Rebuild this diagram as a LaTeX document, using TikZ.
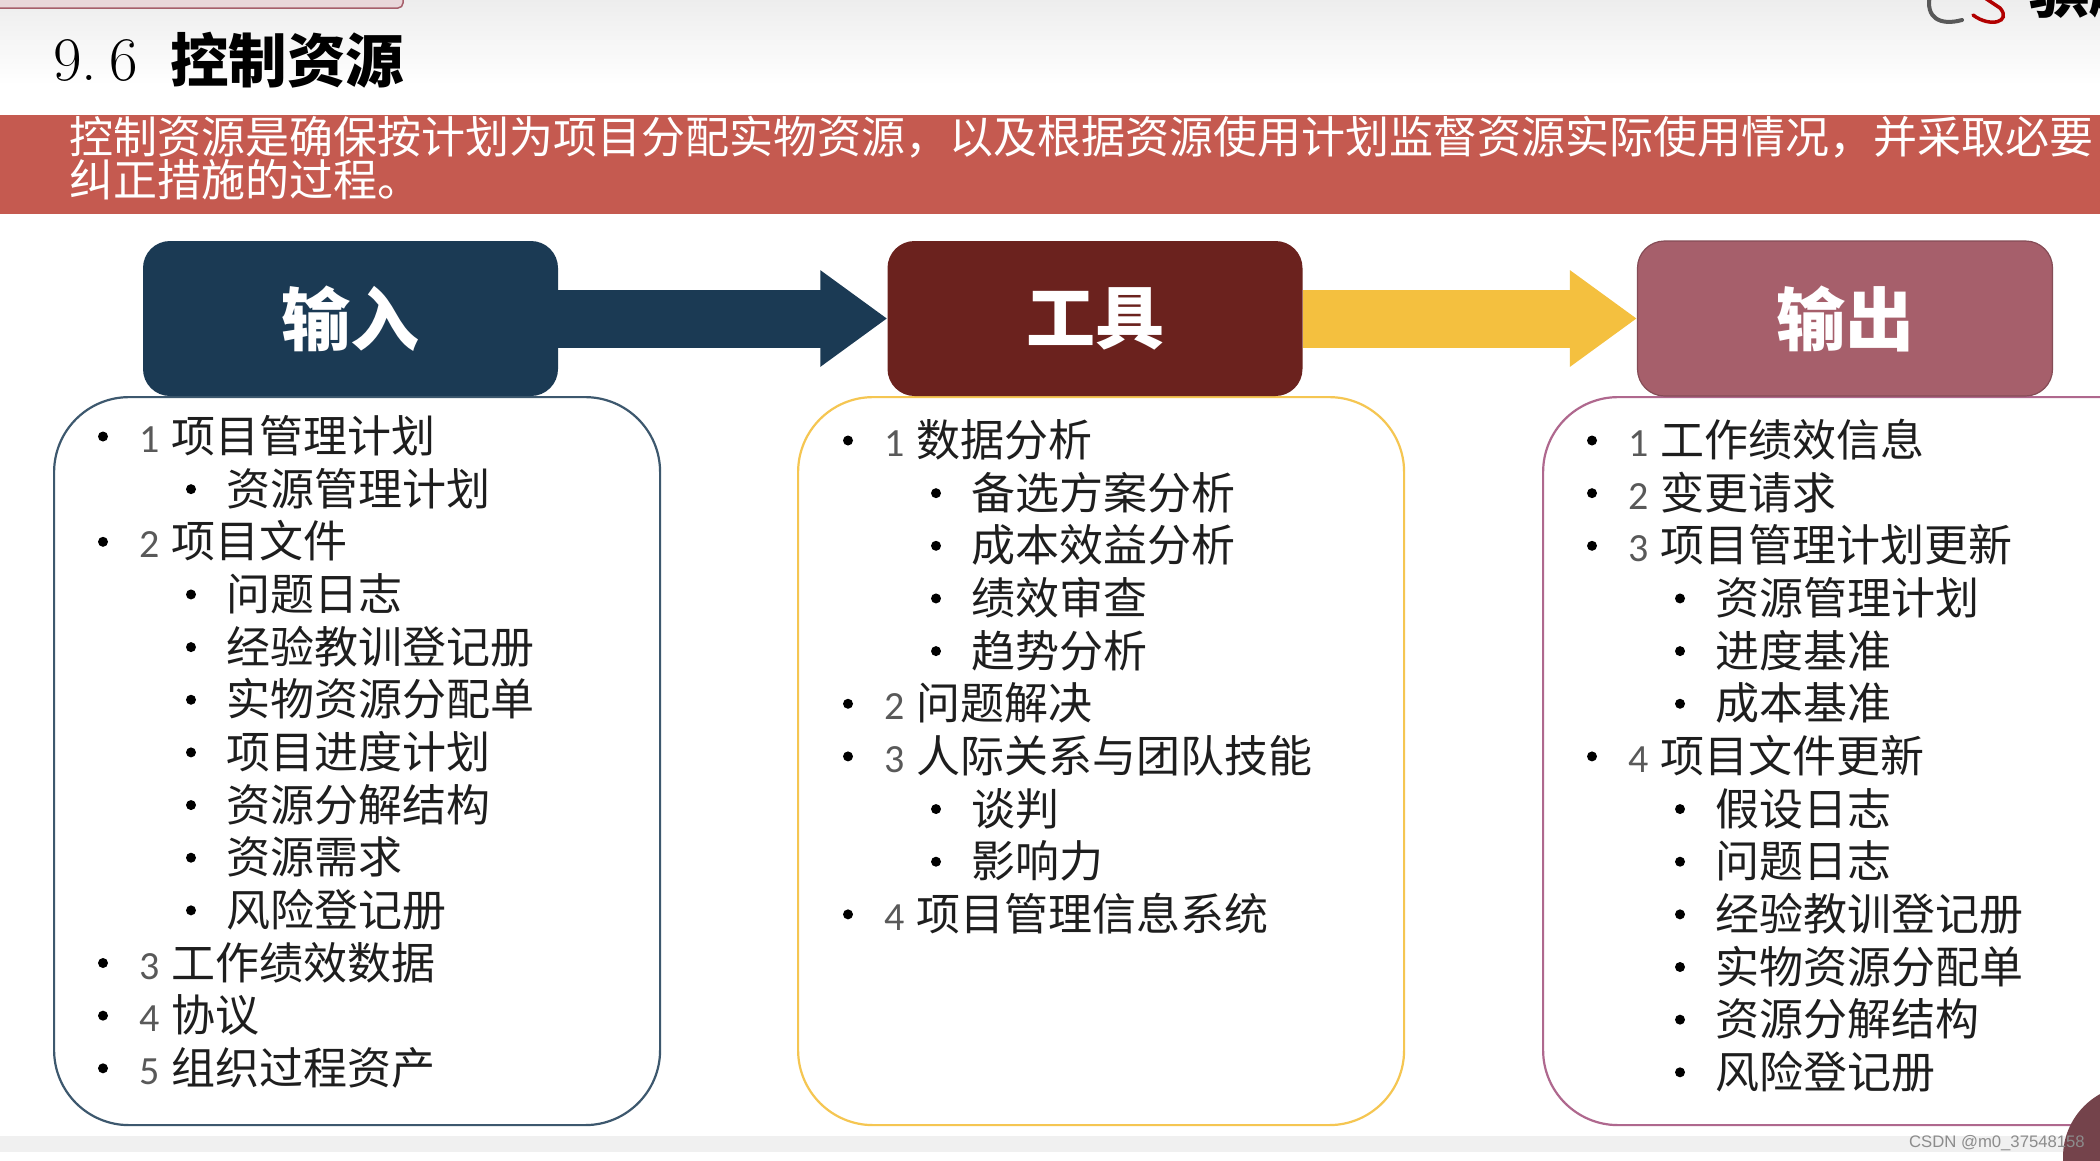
\documentclass[tikz,border=0pt]{standalone}
\usepackage{fontspec}
\newfontfamily\cjkfont{Noto Sans CJK SC}
\newfontfamily\digitfont{Carlito}
\newfontfamily\markfont{Liberation Sans}
\usetikzlibrary{positioning,arrows.meta}
\definecolor{bandred}{HTML}{C55A50}
\definecolor{inblue}{HTML}{1B3A54}
\definecolor{toolred}{HTML}{6B221E}
\definecolor{outrose}{HTML}{A65F6B}
\definecolor{arrowyellow}{HTML}{F4C03F}
\definecolor{textgrey}{HTML}{1E1E1E}
\tikzset{
  headbox/.style={
    rectangle,
    rounded corners=27pt,
    minimum width=415pt,
    minimum height=155pt,
    inner sep=0pt,
    text=white,
    font=\cjkfont\bfseries\fontsize{69}{72}\selectfont},
  listbox/.style={
    rectangle,
    rounded corners=75pt,
    fill=white,
    line width=2.2pt,
    minimum width=606pt,
    minimum height=728pt,
    anchor=north west},
  flow/.style={
    line width=58pt,
    -{Triangle[length=67pt,width=92pt]}},
  bulletdot/.style={circle, fill=black, inner sep=0pt, minimum size=10pt},
  rownum/.style={
    anchor=base west, inner sep=0pt, text=black!65,
    font=\digitfont\fontsize{40}{44}\selectfont},
  rowtext/.style={
    anchor=base west, inner sep=0pt, text=textgrey,
    font=\cjkfont\fontsize{44}{50}\selectfont},
}
% one column of rows: name, bullet x, first row y, rows
\newcommand{\listcol}[4]{
  \foreach \lev/\num/\txt [count=\i] in {#4} {
    \pgfmathsetmacro{\rowy}{#3+52.65*(\i-1)}
    \pgfmathsetmacro{\rowb}{\rowy+16}
    \ifnum\lev=1
      \node[bulletdot] (#1dot\i) at (#2,\rowy) {};
      \node[rownum] (#1num\i) at (#2+36,\rowb) {\num};
      \node[rowtext] (#1txt\i) at (#2+68,\rowb) {\txt};
    \else
      \node[bulletdot] (#1dot\i) at (#2+88,\rowy) {};
      \node[rowtext] (#1txt\i) at (#2+123,\rowb) {\txt};
    \fi
  }
}
\begin{document}
\begin{tikzpicture}[x=1pt,y=-1pt]
  \useasboundingbox (0,0) rectangle (2100,1160);
  \fill[white] (0,0) rectangle (2100,1160);
  % slide head
  \shade[top color=black!7, bottom color=white] (0,0) rectangle (2100,85);
  \draw[fill=outrose!25, draw=outrose, line width=1.5pt, rounded corners=5pt]
    (-20,-20) rectangle (403,8);
  \node[anchor=base west, inner sep=0pt, font=\fontsize{62}{66}\selectfont]
    (secnum) at (53,80) {9.\hspace{12pt}6};
  \node[anchor=base west, inner sep=0pt, font=\cjkfont\bfseries\fontsize{58.5}{62}\selectfont]
    (sectitle) at (170,82) {控制资源};
  % logo, cut by the top edge
  \draw[black!65, line width=4pt, line cap=round]
    (1962,20) .. controls (1940,26) and (1925,18) .. (1930,-5);
  \draw[red!70!black, line width=3.5pt, line cap=round]
    (1973,15) .. controls (1990,28) and (2012,22) .. (2000,8) -- (1985,-2);
  \node[anchor=base west, inner sep=0pt, font=\cjkfont\bfseries\fontsize{60}{62}\selectfont]
    (logotext) at (2029,12) {骐越};
  % band
  \fill[bandred] (0,115) rectangle (2100,214);
  \node[anchor=west, inner sep=0pt, align=left, text=white,
    font=\cjkfont\fontsize{44}{37.5}\selectfont] (bandtext) at (69,158.5)
    {控制资源是确保按计划为项目分配实物资源，以及根据资源使用计划监督资源实际使用情况，并采取必要\\
     纠正措施的过程。};
  % lists
  \node[listbox, draw=inblue!85] (inlist) at (53,396) {};
  \node[listbox, draw=arrowyellow!90] (toollist) at (797,396) {};
  \node[listbox, draw=outrose!70!violet!80, minimum width=640pt] (outlist) at (1542,396) {};
  % heads and the arrows between them
  \node[headbox, fill=inblue] (inhead) at (350.5,318.5) {输入};
  \node[headbox, fill=toolred] (toolhead) at (1095,318.5) {工具};
  \node[headbox, fill=outrose, draw=outrose!80!black, line width=1.2pt] (outhead) at (1845,318.5) {输出};
  \draw[flow, draw=inblue] (inhead.east) -- (toolhead.west);
  \draw[flow, draw=arrowyellow] (toolhead.east) -- (outhead.west);
  % rows
  \listcol{in}{103}{436.5}{1/1/项目管理计划, 2//资源管理计划, 1/2/项目文件, 2//问题日志,
    2//经验教训登记册, 2//实物资源分配单, 2//项目进度计划, 2//资源分解结构, 2//资源需求,
    2//风险登记册, 1/3/工作绩效数据, 1/4/协议, 1/5/组织过程资产}
  \listcol{tool}{848}{440.5}{1/1/数据分析, 2//备选方案分析, 2//成本效益分析, 2//绩效审查,
    2//趋势分析, 1/2/问题解决, 1/3/人际关系与团队技能, 2//谈判, 2//影响力, 1/4/项目管理信息系统}
  \listcol{out}{1592}{440.5}{1/1/工作绩效信息, 1/2/变更请求, 1/3/项目管理计划更新,
    2//资源管理计划, 2//进度基准, 2//成本基准, 1/4/项目文件更新, 2//假设日志, 2//问题日志,
    2//经验教训登记册, 2//实物资源分配单, 2//资源分解结构, 2//风险登记册}
  % foot
  \fill[black!6] (0,1136) rectangle (2100,1152);
  \fill[outrose!70!black] (2135,1157) circle (72);
  \node[anchor=east, inner sep=0pt, text=black!45, font=\markfont\fontsize{16.7}{20}\selectfont]
    (watermark) at (2085,1143) {CSDN @m0\_37548158};
\end{tikzpicture}
\end{document}
